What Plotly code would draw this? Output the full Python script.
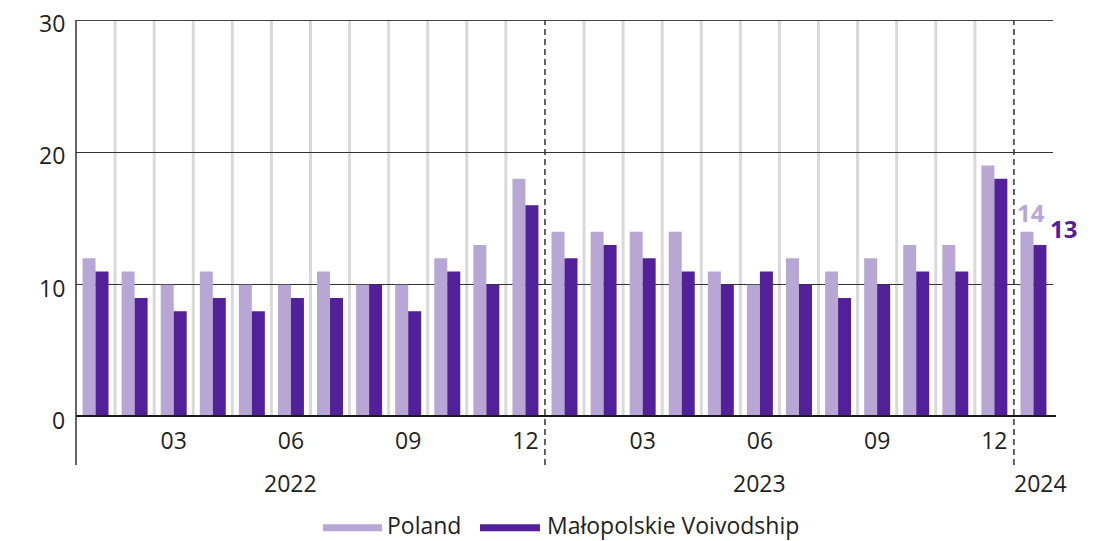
import plotly.graph_objects as go

months = ["01","02","03","04","05","06","07","08","09","10","11","12",
          "01","02","03","04","05","06","07","08","09","10","11","12",
          "01"]
years = [2022]*12 + [2023]*12 + [2024]
poland = [12, 11, 10, 11, 10, 10, 11, 10, 10, 12, 13, 18,
          14, 14, 14, 14, 11, 10, 12, 11, 12, 13, 13, 19,
          14]
malopolskie = [11, 9, 8, 9, 8, 9, 9, 10, 8, 11, 10, 16,
               12, 13, 12, 11, 10, 11, 10, 9, 10, 11, 11, 18,
               13]
series_names = ["Poland", "Małopolskie Voivodship"]
tick_months = ["03", "06", "09", "12"]
y_ticks = [0, 10, 20, 30]

C_POL = "#b8a7d5"
C_MAL = "#52219a"
FONT = "Open Sans"
TXT = "#231f20"
FS = 23

n = len(months)
idx = list(range(n))

fig = go.Figure()
fig.add_bar(x=idx, y=poland, name=series_names[0], marker_color=C_POL, showlegend=False,
            marker_line_width=0)
fig.add_bar(x=idx, y=malopolskie, name=series_names[1], marker_color=C_MAL,
            showlegend=False, marker_line_width=0)

shapes = []
for i in range(n - 1):
    if years[i] != years[i + 1]:
        shapes.append(dict(type="line", xref="x", yref="paper", x0=i + 0.5, x1=i + 0.5,
                           y0=-0.121, y1=1, line=dict(color="#333333", width=1.5, dash="6px,4px"),
                           layer="above"))
    else:
        shapes.append(dict(type="line", xref="x", yref="y", x0=i + 0.5, x1=i + 0.5,
                           y0=0, y1=30, line=dict(color="#d9d9d9", width=3), layer="below"))
shapes.append(dict(type="line", xref="paper", yref="paper", x0=0, x1=0, y0=-0.121, y1=1,
                   line=dict(color="#333333", width=1.5)))
shapes.append(dict(type="line", xref="paper", yref="y", x0=0, x1=1, y0=30, y1=30,
                   line=dict(color="#444444", width=2)))
shapes.append(dict(type="line", xref="paper", yref="y", x0=0, x1=1.003, y0=0, y1=0,
                   line=dict(color="#1a1a1a", width=4), layer="above"))

annotations = []
# y tick labels (slightly below their gridlines, as in the reference)
for v in y_ticks:
    annotations.append(dict(x=0, y=v, xref="paper", yref="y", text=str(v), showarrow=False,
                            xanchor="right", yanchor="middle", xshift=-9, yshift=-3,
                            font=dict(family=FONT, size=FS, color=TXT)))
for yv in sorted(set(years)):
    pos = [i for i in idx if years[i] == yv]
    if len(pos) >= 12:
        xc = pos[0] + 5.0
        xs = 0
    else:
        xc = pos[0]
        xs = 7
    annotations.append(dict(x=xc, y=-0.166, xref="x", yref="paper", text=str(yv),
                            showarrow=False, xshift=xs, yanchor="middle",
                            font=dict(family=FONT, size=FS, color=TXT)))
annotations.append(dict(x=n - 1, y=poland[-1], xref="x", yref="y", text="<b>%d</b>" % poland[-1],
                        showarrow=False, xshift=-2, yshift=19, yanchor="middle",
                        font=dict(family=FONT, size=24, color=C_POL)))
annotations.append(dict(x=n - 1, y=malopolskie[-1], xref="x", yref="y", text="<b>%d</b>" % malopolskie[-1],
                        showarrow=False, xshift=30, yshift=16, yanchor="middle",
                        font=dict(family=FONT, size=24, color=C_MAL)))

# manual legend (line symbols + text)
LEG_Y = -0.273
legend_items = [(series_names[0], C_POL, 0.2528, 0.3132, 0.3162),
                (series_names[1], C_MAL, 0.4135, 0.4749, 0.4800)]
for name, col, lx0, lx1, tx in legend_items:
    shapes.append(dict(type="line", xref="paper", yref="paper", x0=lx0, x1=lx1,
                       y0=LEG_Y - 0.006, y1=LEG_Y - 0.006, line=dict(color=col, width=7)))
    annotations.append(dict(x=tx, y=LEG_Y, xref="paper", yref="paper", text=name,
                            showarrow=False, xanchor="left", yanchor="middle",
                            font=dict(family=FONT, size=FS, color=TXT)))

tickvals = [i for i in idx if months[i] in tick_months]
ticktext = [months[i] for i in tickvals]

fig.update_layout(
    width=1102, height=533,
    margin=dict(l=68, r=57, t=12, b=124, autoexpand=False),
    paper_bgcolor="white", plot_bgcolor="white",
    barmode="group", bargap=0.335, bargroupgap=0,
    font=dict(family=FONT, size=FS, color=TXT),
    shapes=shapes, annotations=annotations, showlegend=False,
    xaxis=dict(range=[-0.5, n - 0.5], tickvals=tickvals, ticktext=ticktext,
               showgrid=False, zeroline=False, showline=False, ticks="",
               ticklabelstandoff=8, tickfont=dict(family=FONT, size=FS, color=TXT)),
    yaxis=dict(range=[0, 30], tickvals=y_ticks, showgrid=True, gridcolor="#333333",
               gridwidth=1, zeroline=False, showline=False, ticks="",
               showticklabels=False),
)

fig.write_html("out.html")
